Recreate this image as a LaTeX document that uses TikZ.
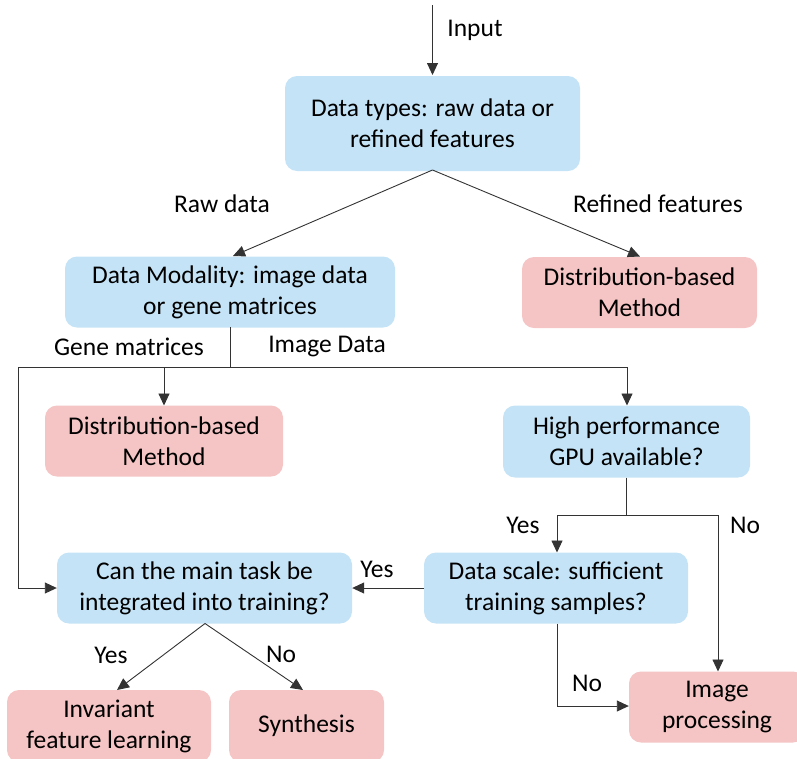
\documentclass[tikz,border=0pt]{standalone}
\usepackage{fontspec}
\setmainfont{Carlito}
\usetikzlibrary{arrows.meta}
\definecolor{boxblue}{RGB}{196,227,246}
\definecolor{boxpink}{RGB}{245,196,196}
\begin{document}
\begin{tikzpicture}[x=1pt,y=-1pt,
  font=\fontsize{25.5}{31}\selectfont,
  box/.style={rounded corners=12pt, inner sep=0pt, align=center, draw=none},
  bluebox/.style={box, fill=boxblue},
  pinkbox/.style={box, fill=boxpink},
  conn/.style={draw=black!80, line width=0.9pt},
  arr/.style={conn, -{Triangle[length=12pt,width=11pt]}},
  lbl/.style={inner sep=0pt, anchor=center}]
\useasboundingbox (0,0) rectangle (797,758);
\begin{scope}
\clip (0,0) rectangle (797,758);
\node[bluebox, minimum width=295pt, minimum height=95pt] (types) at (432.5,123.5) {Data types: raw data or\\refined features};
\node[bluebox, minimum width=330pt, minimum height=71pt] (modal) at (230,292) {Data Modality: image data\\or gene matrices};
\node[pinkbox, minimum width=235pt, minimum height=71pt] (distR) at (639.5,292.5) {Distribution-based\\Method};
\node[pinkbox, minimum width=238pt, minimum height=71pt] (distL) at (164,441) {Distribution-based\\Method};
\node[bluebox, minimum width=247pt, minimum height=72pt] (gpu) at (626.5,441.5) {High performance\\GPU available?};
\node[bluebox, minimum width=264pt, minimum height=71pt] (scale) at (556,588) {Data scale: sufficient\\training samples?};
\node[bluebox, minimum width=295pt, minimum height=71pt] (task) at (204.5,588) {Can the main task be\\integrated into training?};
\node[pinkbox, minimum width=176pt, minimum height=71pt] (imgp) at (717,707) {Image\\processing};
\node[pinkbox, minimum width=204pt, minimum height=72pt] (inv) at (109,726) {Invariant\\feature learning};
\node[pinkbox, minimum width=155pt, minimum height=72pt] (syn) at (306.5,726) {Synthesis};
\end{scope}

\coordinate (inTop) at (432.5,5);
\draw[arr] (inTop) -- (432.5,75);
\node[lbl] (lInput) at (475,30) {Input};

\coordinate (typesB) at (432.5,170);
\draw[arr] (typesB) -- (233,256);
\draw[arr] (typesB) -- (640,256.5);
\node[lbl] (lRaw) at (222,204) {Raw data};
\node[lbl] (lRef) at (658,204) {Refined features};

\coordinate (modB) at (230,327);
\coordinate (bus) at (230,367);
\coordinate (busL) at (18,367);
\coordinate (busR) at (627,367);
\coordinate (busD) at (164,367);
\draw[conn] (modB) -- (bus);
\draw[conn] (busL) -- (busR);
\draw[arr] (busD) -- (164,405.5);
\draw[arr] (busR) -- (627,405.5);
\draw[arr] (busL) |- (task.west);
\node[lbl] (lGene) at (129,347) {Gene matrices};
\node[lbl] (lImg) at (327,347) {Image Data};

\coordinate (gpuBus) at (626.5,515);
\coordinate (gpuL) at (557,515);
\coordinate (gpuR) at (718,515);
\draw[conn] (626.5,477.5) -- (gpuBus);
\draw[conn] (gpuL) -- (gpuR);
\draw[arr] (gpuL) -- (557,552.5);
\draw[arr] (gpuR) -- (718,671.5);
\node[lbl] (lYes1) at (523,525) {Yes};
\node[lbl] (lNo1) at (745,525) {No};

\coordinate (scaleB) at (557,623.5);
\draw[arr] (scaleB) |- (imgp.west |- 0,706);
\node[lbl] (lNo2) at (587,683) {No};

\draw[arr] (scale.west) -- (task.east);
\node[lbl] (lYes2) at (377,569) {Yes};

\coordinate (taskB) at (205,623.5);
\draw[arr] (taskB) -- (117,690);
\draw[arr] (taskB) -- (303,690);
\node[lbl] (lYes3) at (111,655) {Yes};
\node[lbl] (lNo3) at (281,654) {No};
\end{tikzpicture}
\end{document}
